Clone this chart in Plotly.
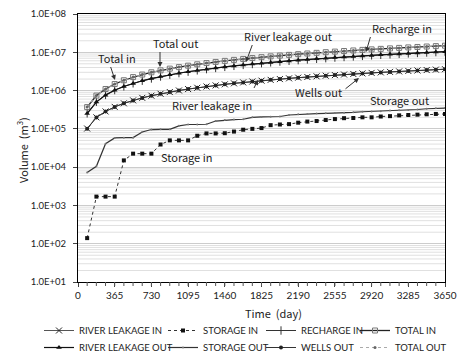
import plotly.graph_objects as go

days = [91, 183, 274, 365, 456, 548, 639, 730, 821, 913, 1004, 1095, 1186, 1278, 1369, 1460,
        1551, 1643, 1734, 1825, 1916, 2008, 2099, 2190, 2281, 2373, 2464, 2555, 2646, 2738,
        2829, 2920, 3011, 3103, 3194, 3285, 3376, 3468, 3559, 3650]

river_leakage_in = [1.02e5, 2.0e5, 2.85e5, 3.75e5, 4.65e5, 5.55e5, 6.45e5, 7.35e5, 8.25e5, 9.15e5,
                    1.005e6, 1.095e6, 1.185e6, 1.275e6, 1.365e6, 1.455e6, 1.545e6, 1.635e6, 1.725e6, 1.815e6,
                    1.905e6, 1.995e6, 2.085e6, 2.175e6, 2.265e6, 2.355e6, 2.445e6, 2.535e6, 2.625e6, 2.715e6,
                    2.805e6, 2.895e6, 2.985e6, 3.075e6, 3.165e6, 3.255e6, 3.345e6, 3.435e6, 3.525e6, 3.62e6]
storage_in = [1.4e2, 1.7e3, 1.7e3, 1.7e3, 1.5e4, 2.25e4, 2.25e4, 2.25e4, 3.9e4, 5.0e4,
              5.0e4, 5.0e4, 6.6e4, 7.6e4, 7.6e4, 7.7e4, 8.5e4, 9.5e4, 1.0e5, 1.05e5,
              1.25e5, 1.3e5, 1.33e5, 1.45e5, 1.55e5, 1.6e5, 1.7e5, 1.8e5, 1.9e5, 1.92e5,
              2.0e5, 2.0e5, 2.1e5, 2.15e5, 2.25e5, 2.3e5, 2.35e5, 2.4e5, 2.45e5, 2.45e5]
recharge_in = [2.55e5, 5.1e5, 7.7e5, 1.03e6, 1.29e6, 1.55e6, 1.81e6, 2.07e6, 2.33e6, 2.6e6,
               2.86e6, 3.12e6, 3.38e6, 3.64e6, 3.9e6, 4.16e6, 4.42e6, 4.68e6, 4.94e6, 5.2e6,
               5.46e6, 5.72e6, 5.98e6, 6.24e6, 6.5e6, 6.76e6, 7.02e6, 7.28e6, 7.54e6, 7.8e6,
               8.06e6, 8.32e6, 8.58e6, 8.84e6, 9.1e6, 9.36e6, 9.62e6, 9.88e6, 1.014e7, 1.04e7]
total_in = [3.7e5, 7.4e5, 1.1e6, 1.48e6, 1.86e6, 2.25e6, 2.62e6, 3.0e6, 3.37e6, 3.74e6,
            4.1e6, 4.47e6, 4.85e6, 5.22e6, 5.6e6, 5.97e6, 6.33e6, 6.7e6, 7.07e6, 7.45e6,
            7.82e6, 8.2e6, 8.56e6, 8.93e6, 9.3e6, 9.68e6, 1.005e7, 1.042e7, 1.08e7, 1.116e7,
            1.154e7, 1.19e7, 1.228e7, 1.265e7, 1.302e7, 1.34e7, 1.376e7, 1.414e7, 1.45e7, 1.488e7]
river_leakage_out = [2.5e5, 5.0e5, 7.6e5, 1.02e6, 1.28e6, 1.54e6, 1.8e6, 2.06e6, 2.32e6, 2.58e6,
                     2.84e6, 3.1e6, 3.36e6, 3.62e6, 3.88e6, 4.14e6, 4.4e6, 4.66e6, 4.92e6, 5.18e6,
                     5.44e6, 5.7e6, 5.96e6, 6.22e6, 6.48e6, 6.74e6, 7.0e6, 7.26e6, 7.52e6, 7.78e6,
                     8.04e6, 8.3e6, 8.56e6, 8.82e6, 9.08e6, 9.34e6, 9.6e6, 9.86e6, 1.012e7, 1.038e7]
storage_out = [7.2e3, 1.05e4, 4.1e4, 5.8e4, 5.9e4, 5.9e4, 8.3e4, 9.6e4, 9.7e4, 9.7e4,
               1.2e5, 1.3e5, 1.3e5, 1.32e5, 1.6e5, 1.7e5, 1.75e5, 1.78e5, 2.0e5, 2.05e5,
               2.08e5, 2.1e5, 2.3e5, 2.4e5, 2.45e5, 2.5e5, 2.55e5, 2.58e5, 2.62e5, 2.7e5,
               2.8e5, 2.85e5, 2.9e5, 3.0e5, 3.05e5, 3.1e5, 3.2e5, 3.35e5, 3.45e5, 3.5e5]
wells_out = [1.0e5, 1.98e5, 2.84e5, 3.74e5, 4.64e5, 5.54e5, 6.44e5, 7.34e5, 8.24e5, 9.14e5,
             1.004e6, 1.094e6, 1.184e6, 1.274e6, 1.364e6, 1.454e6, 1.544e6, 1.634e6, 1.724e6, 1.814e6,
             1.904e6, 1.994e6, 2.084e6, 2.174e6, 2.264e6, 2.354e6, 2.444e6, 2.534e6, 2.624e6, 2.714e6,
             2.804e6, 2.894e6, 2.984e6, 3.074e6, 3.164e6, 3.254e6, 3.344e6, 3.434e6, 3.524e6, 3.61e6]
total_out = [3.72e5, 7.42e5, 1.1e6, 1.48e6, 1.86e6, 2.25e6, 2.62e6, 3.0e6, 3.37e6, 3.74e6,
             4.1e6, 4.47e6, 4.85e6, 5.22e6, 5.6e6, 5.97e6, 6.33e6, 6.7e6, 7.07e6, 7.45e6,
             7.82e6, 8.2e6, 8.56e6, 8.93e6, 9.3e6, 9.68e6, 1.005e7, 1.042e7, 1.08e7, 1.116e7,
             1.154e7, 1.19e7, 1.228e7, 1.265e7, 1.302e7, 1.34e7, 1.376e7, 1.414e7, 1.45e7, 1.488e7]

x_ticks = [0, 365, 730, 1095, 1460, 1825, 2190, 2555, 2920, 3285, 3650]
x_minor = [91.25 * k for k in range(1, 40)]
y_tickvals = [1e1, 1e2, 1e3, 1e4, 1e5, 1e6, 1e7, 1e8]
y_ticktext = ["1.0E+01", "1.0E+02", "1.0E+03", "1.0E+04", "1.0E+05", "1.0E+06", "1.0E+07", "1.0E+08"]
y_minor_grid = [m * 10 ** e for e in range(1, 8) for m in range(2, 10)]

W, H = 462, 355
L, R, T, B = 78, 445, 14, 282

FONT = "Lato"
AFONT = "Noto Sans CJK KR"

fig = go.Figure()

# (name, values, line, marker, legend text-start px, legend row center px)
series = [
    ("RIVER LEAKAGE IN", river_leakage_in, dict(color="#555555", width=1),
     dict(symbol="x-thin-open", size=6, color="#222222", line=dict(width=1, color="#222222")), 80, 328),
    ("STORAGE IN", storage_in, dict(color="#333333", width=1, dash="dot"),
     dict(symbol="square", size=4, color="#111111"), 204, 328),
    ("RECHARGE IN", recharge_in, dict(color="#333333", width=1),
     dict(symbol="line-ns-open", size=6, color="#333333", line=dict(width=1, color="#333333")), 302, 328),
    ("TOTAL IN", total_in, dict(color="#222222", width=1.3),
     dict(symbol="square-open", size=5, color="#777777", line=dict(width=1, color="#777777")), 396, 328),
    ("RIVER LEAKAGE OUT", river_leakage_out, dict(color="#111111", width=1.2),
     dict(symbol="triangle-up", size=5, color="#111111"), 80, 345),
    ("STORAGE OUT", storage_out, dict(color="#333333", width=1.2),
     dict(symbol="circle", size=2, color="#777777"), 204, 345),
    ("WELLS OUT", wells_out, dict(color="#333333", width=1),
     dict(symbol="circle", size=4, color="#222222"), 302, 345),
    ("TOTAL OUT", total_out, dict(color="#aaaaaa", width=1, dash="dot"),
     dict(symbol="circle", size=3, color="#666666"), 396, 345),
]

legends = {}
for i, (name, vals, line, marker, lx, ly) in enumerate(series):
    lid = "legend" if i == 0 else f"legend{i + 1}"
    fig.add_trace(go.Scatter(x=days, y=vals, name=name, mode="lines+markers", line=line,
                             marker=marker, legend=lid, showlegend=True))
    legends[lid] = dict(
        x=(lx - 41 - L) / (R - L), y=(B - (ly - 12)) / (B - T),
        xanchor="left", yanchor="top", orientation="v", itemwidth=30,
        font=dict(family=FONT, size=9.5, color="#222222"),
        bgcolor="rgba(0,0,0,0)", borderwidth=0,
    )

fig.update_layout(
    width=W, height=H, showlegend=True,
    margin=dict(l=L, r=W - R, t=T, b=H - B, autoexpand=False),
    paper_bgcolor="white", plot_bgcolor="white",
    font=dict(family=FONT, size=10, color="#222222"),
    xaxis=dict(
        range=[0, 3650], tickvals=x_ticks, ticktext=[str(v) for v in x_ticks],
        ticks="outside", ticklen=4, tickcolor="#444444",
        showline=True, linecolor="black", linewidth=1.3, mirror=True,
        showgrid=False, zeroline=False,
        tickfont=dict(family=FONT, size=10, color="#222222"),
    ),
    yaxis=dict(
        type="log", range=[1, 8], tickvals=y_tickvals, ticktext=y_ticktext,
        ticks="outside", ticklen=4, tickcolor="#444444", ticklabelstandoff=5,
        showline=True, linecolor="black", linewidth=1.3, mirror=True,
        showgrid=True, gridcolor="#cccccc", gridwidth=1,
        zeroline=False,
        tickfont=dict(family=FONT, size=9.5, color="#222222"),
    ),
    **legends,
)

def px2paper(px, py):
    return (px - L) / (R - L), (B - py) / (B - T)

labels = [
    ("Total in", 117, 58),
    ("Total out", 175, 43),
    ("River leakage out", 288, 36),
    ("Recharge in", 402, 28),
    ("River leakage in", 212, 105),
    ("Wells out", 318, 92),
    ("Storage out", 399, 100),
    ("Storage in", 186, 157),
    ("Time  (day)", 273, 313),
]
for text, px, py in labels:
    xp, yp = px2paper(px, py)
    fig.add_annotation(x=xp, y=yp, xref="paper", yref="paper", text=text, showarrow=False,
                       xanchor="center", yanchor="middle",
                       font=dict(family=AFONT, size=11, color="#222222"))

xp, yp = px2paper(22, 150)
fig.add_annotation(x=xp, y=yp, xref="paper", yref="paper", text="Volume  (m<sup>3</sup>)",
                   textangle=-90, showarrow=False, xanchor="center", yanchor="middle",
                   font=dict(family=AFONT, size=11, color="#222222"))

arrows = [  # tail px, tail py, tip px, tip py
    (110, 65, 115, 80),
    (160, 50, 160, 67),
    (253, 43, 246, 62),
    (371, 35, 366, 52),
    (253, 90, 258, 80),
    (344, 90, 359, 78),
]
for tx, ty, hx, hy in arrows:
    xp, yp = px2paper(hx, hy)
    fig.add_annotation(x=xp, y=yp, xref="paper", yref="paper", text=" ", showarrow=True,
                       ax=tx - hx, ay=ty - hy, arrowhead=2, arrowsize=1, arrowwidth=1,
                       arrowcolor="#333333", standoff=0, font=dict(size=1))

# minor gridlines (light) and quarterly x tick marks as layout shapes
for v in y_minor_grid:
    fig.add_shape(type="line", xref="paper", yref="y", x0=0, x1=1, y0=v, y1=v,
                  line=dict(color="#e0e0e0", width=1), layer="below")
for v in x_minor:
    fig.add_shape(type="line", xref="x", yref="paper", x0=v, x1=v, y0=0, y1=-4 / (B - T),
                  line=dict(color="#555555", width=1), layer="above")

fig.write_html("out.html", config={"displayModeBar": False},
               post_script="document.body.style.margin='0';")
